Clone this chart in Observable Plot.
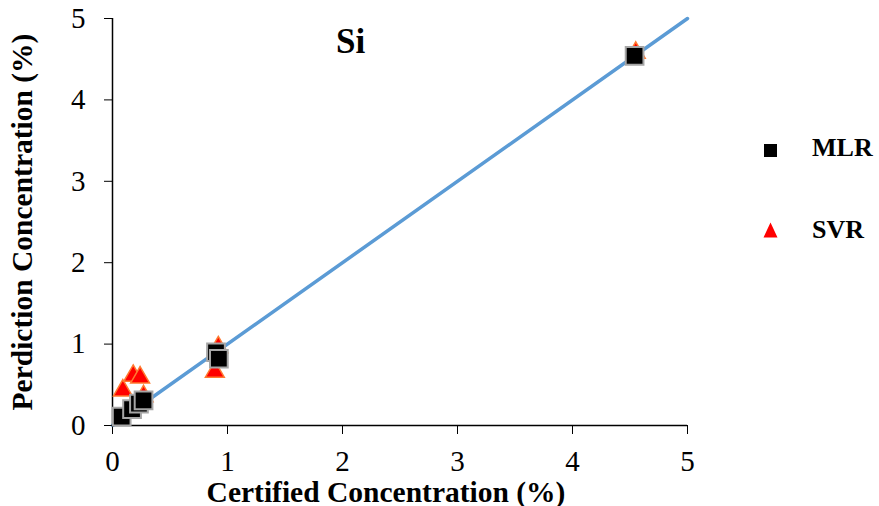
<!DOCTYPE html>
<html>
<head>
<meta charset="utf-8">
<script src="https://cdn.jsdelivr.net/npm/d3@7"></script>
<script src="https://cdn.jsdelivr.net/npm/@observablehq/plot@0.6"></script>
<style>
  html, body { margin: 0; padding: 0; background: #fff; }
  #wrap { position: relative; width: 879px; height: 506px; font-family: "Liberation Serif", "Times New Roman", Times, serif; }
  #wrap svg text { font-family: "Liberation Serif", "Times New Roman", Times, serif !important; fill: #000; }
  .ov { position: absolute; font-weight: bold; color: #000; line-height: 1; white-space: nowrap; font-family: "Liberation Serif", "Times New Roman", Times, serif; }
</style>
</head>
<body>
<div id="wrap"></div>
<script>
// Data
const mlrCertified = [0.08, 0.17, 0.23, 0.27, 0.90, 0.925, 4.54];
const mlrPredicted = [0.11, 0.20, 0.27, 0.31, 0.90, 0.82, 4.54];
const svrCertified = [0.09, 0.18, 0.24, 0.27, 0.89, 0.92, 4.55];
const svrPredicted = [0.43, 0.61, 0.59, 0.36, 0.66, 0.96, 4.58];
const lineX = [0, 5];
const tickValues = [0, 1, 2, 3, 4, 5];
const seriesNames = ["MLR", "SVR"];
const titleText = "Si";

const mlr = mlrCertified.map((x, i) => ({x, y: mlrPredicted[i]}));
const svr = svrCertified.map((x, i) => ({x, y: svrPredicted[i]}));
const ideal = lineX.map(v => ({x: v, y: v}));

const serif = "'Liberation Serif', 'Times New Roman', Times, serif";

const chart = Plot.plot({
  width: 879,
  height: 506,
  marginLeft: 112,
  marginRight: 192,
  marginTop: 18,
  marginBottom: 81,
  style: {fontFamily: serif, color: "#000", background: "#fff"},
  x: {domain: [0, 5]},
  y: {domain: [0, 5]},
  marks: [
    Plot.line(ideal, {x: "x", y: "y", stroke: "#5B9BD5", strokeWidth: 3.5}),
    Plot.ruleX([0], {stroke: "#000", strokeWidth: 1.5}),
    Plot.ruleY([0], {stroke: "#000", strokeWidth: 1.5}),
    Plot.axisX({ticks: tickValues, tickSize: 9, tickPadding: 16, tickFormat: d => d, fontFamily: serif,
      label: "Certified Concentration (%)", labelAnchor: "center", labelOffset: 76, labelArrow: "none"}),
    Plot.axisY({ticks: tickValues, tickSize: 8, tickPadding: 19, tickFormat: d => d, fontFamily: serif,
      label: "Perdiction Concentration (%)", labelAnchor: "center", labelOffset: 101, labelArrow: "none"}),
    Plot.dot(svr, {x: "x", y: "y", symbol: "triangle", r: 7, fill: "#FF0000", stroke: "#FF7A30", strokeWidth: 1.5}),
    Plot.dot(mlr, {x: "x", y: "y", symbol: "square", r: 10, fill: "#000", stroke: "#A6A6A6", strokeWidth: 2})
  ]
});
document.getElementById("wrap").appendChild(chart);

// fonts: tick labels and bold axis titles
chart.querySelectorAll("text").forEach(t => { t.style.fontFamily = serif; });
chart.querySelectorAll("g[aria-label='x-axis tick label'] text, g[aria-label='y-axis tick label'] text").forEach(t => {
  t.style.fontSize = "29px";
});
chart.querySelectorAll("g[aria-label='x-axis label'] text, g[aria-label='y-axis label'] text").forEach(t => {
  t.style.fontWeight = "bold";
  t.style.fontSize = "29.5px";
});
chart.querySelectorAll("g[aria-label='x-axis label'] text").forEach(t => {
  t.setAttribute("dx", "-14");
});

// Title and legend overlays
const wrap = document.getElementById("wrap");
const title = document.createElement("div");
title.className = "ov";
title.style.cssText = `left:336px;top:24px;font-size:35px;font-family:${serif};`;
title.textContent = titleText;
wrap.appendChild(title);

const legendSymbols = [
  '<svg width="15" height="15"><rect x="1" y="1" width="13" height="13" fill="#000"/></svg>',
  '<svg width="16" height="16"><polygon points="7.5,0.5 14.5,15.5 0.5,15.5" fill="#FF0000"/></svg>'
];
const symTops = [143, 222];
const labTops = [135, 217];
seriesNames.forEach((name, i) => {
  const sym = document.createElement("div");
  sym.style.cssText = `position:absolute;left:763px;top:${symTops[i]}px;line-height:0;`;
  sym.innerHTML = legendSymbols[i];
  wrap.appendChild(sym);
  const lab = document.createElement("div");
  lab.className = "ov";
  lab.style.cssText = `left:812px;top:${labTops[i]}px;font-size:26px;font-family:${serif};`;
  lab.textContent = name;
  wrap.appendChild(lab);
});
</script>
</body>
</html>
